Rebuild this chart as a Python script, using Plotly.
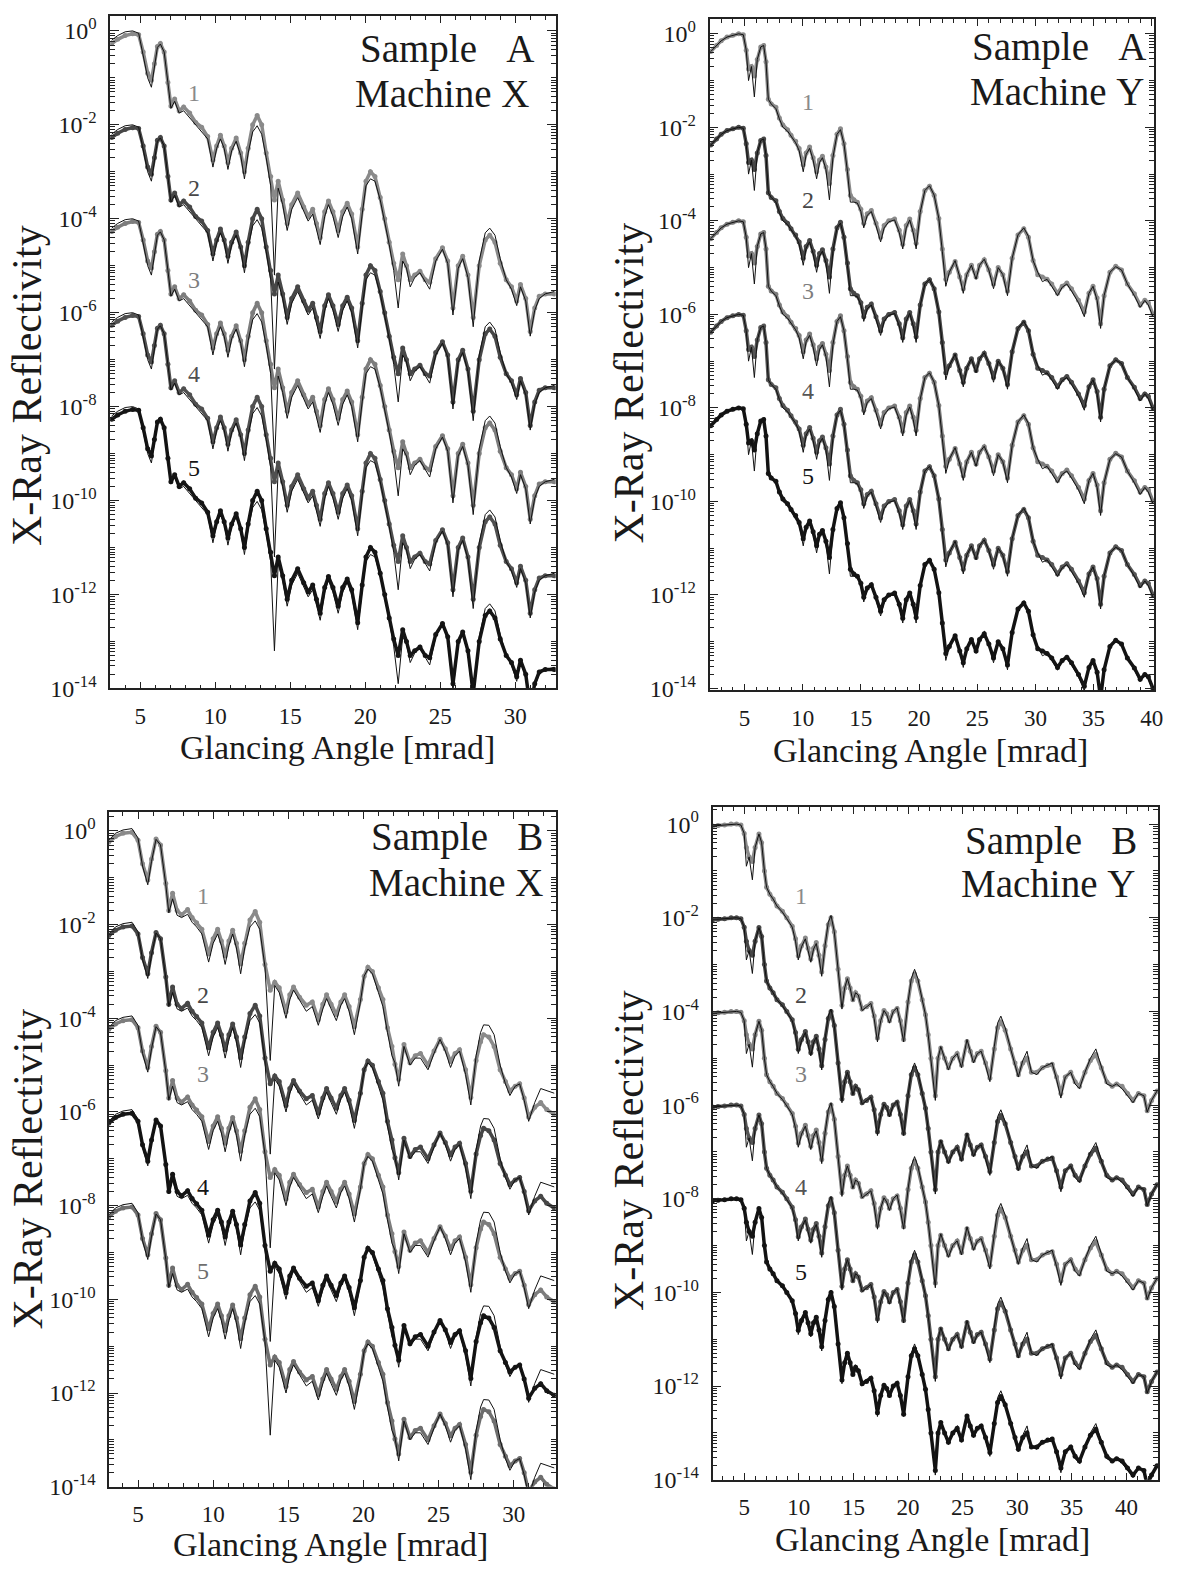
import plotly.graph_objects as go

SERIF = "Liberation Serif, Times New Roman, serif"
W, H = 1181, 1571

# Curve 1 of each panel as log10(reflectivity); curves 2-5 are the same sample
# stacked two decades lower each, as in the original figure.
shift = [0, -2, -4, -6, -8]

# ---- Sample A, Machine X ----
angle_AX = [3.1, 3.5, 4.0, 4.5, 4.9, 5.2, 5.5, 5.75, 5.95, 6.15,
            6.35, 6.6, 6.85, 7.05, 7.3, 7.6, 7.9, 8.3, 8.7, 9.1,
            9.5, 9.85, 10.1, 10.35, 10.6, 10.85, 11.1, 11.4, 11.7, 11.95,
            12.2, 12.5, 12.8, 13.1, 13.4, 13.7, 13.95, 14.2, 14.5, 14.8,
            15.1, 15.5, 15.9, 16.2, 16.5, 16.75, 17.0, 17.3, 17.55, 17.85,
            18.2, 18.5, 18.8, 19.1, 19.5, 19.8, 20.05, 20.35, 20.65, 21.0,
            21.3, 21.6, 21.9, 22.2, 22.5, 22.75, 23.0, 23.3, 23.65, 24.0,
            24.3, 24.7, 25.15, 25.5, 25.85, 26.2, 26.5, 26.85, 27.2, 27.6,
            28.0, 28.3, 28.65, 29.0, 29.4, 29.75, 30.1, 30.35, 30.7, 31.0,
            31.3, 31.6, 32.0, 32.6]
meas_AX = [-0.27, -0.18, -0.1, -0.06, -0.08, -0.45, -0.9, -1.05, -0.7, -0.33,
           -0.27, -0.45, -1.1, -1.6, -1.45, -1.7, -1.62, -1.75, -1.95, -2.05,
           -2.25, -2.75, -2.45, -2.22, -2.45, -2.8, -2.5, -2.28, -2.6, -3.0,
           -2.5, -2.0, -1.8, -2.0, -2.6, -3.1, -3.6, -3.2, -3.6, -4.1,
           -3.7, -3.45, -3.75, -3.95, -3.8, -4.1, -4.4, -3.85, -3.62, -3.85,
           -4.25, -3.85, -3.67, -3.9, -4.6, -3.8, -3.2, -3.0, -3.1, -3.55,
           -4.0, -4.5, -4.95, -5.3, -4.75, -5.0, -5.3, -5.2, -5.12, -5.3,
           -5.35, -4.85, -4.62, -4.9, -5.9, -5.0, -4.8, -5.2, -6.1, -5.0,
           -4.45, -4.35, -4.5, -4.95, -5.3, -5.45, -5.75, -5.4, -5.7, -6.4,
           -5.9, -5.65, -5.6, -5.6]
fit_AX = [-0.2, -0.1, -0.02, 0.0, -0.05, -0.5, -1.0, -1.2, -0.75, -0.35,
          -0.28, -0.45, -1.1, -1.65, -1.5, -1.75, -1.7, -1.85, -2.0, -2.15,
          -2.3, -2.9, -2.5, -2.3, -2.5, -2.95, -2.55, -2.35, -2.65, -3.15,
          -2.6, -2.15, -2.02, -2.2, -2.7, -3.3, -5.2, -3.35, -3.7, -4.25,
          -3.8, -3.55, -3.85, -4.05, -3.9, -4.2, -4.55, -3.95, -3.7, -3.95,
          -4.4, -3.95, -3.75, -4.0, -4.75, -3.9, -3.3, -3.15, -3.2, -3.6,
          -4.05, -4.55, -5.1, -5.9, -4.9, -5.05, -5.45, -5.25, -5.15, -5.35,
          -5.5, -4.9, -4.65, -4.95, -6.05, -5.05, -4.85, -5.25, -6.3, -4.9,
          -4.3, -4.2, -4.35, -4.85, -5.3, -5.5, -5.85, -5.45, -5.75, -6.5,
          -5.95, -5.7, -5.6, -5.55]

# ---- Sample A, Machine Y ----
angle_AY = [2.1, 2.6, 3.0, 3.5, 4.0, 4.5, 4.9, 5.15, 5.35, 5.6,
            5.85, 6.1, 6.4, 6.65, 6.85, 7.05, 7.3, 7.7, 8.0, 8.3,
            8.7, 9.0, 9.4, 9.7, 10.05, 10.3, 10.6, 10.9, 11.2, 11.45,
            11.7, 12.0, 12.3, 12.6, 12.95, 13.25, 13.55, 13.85, 14.1, 14.4,
            14.7, 15.0, 15.25, 15.55, 15.9, 16.3, 16.7, 17.0, 17.4, 17.9,
            18.3, 18.6, 18.9, 19.2, 19.5, 19.75, 20.1, 20.5, 20.9, 21.3,
            21.7, 22.0, 22.3, 22.6, 23.1, 23.5, 23.8, 24.1, 24.5, 24.9,
            25.2, 25.6, 26.0, 26.4, 26.8, 27.2, 27.6, 28.0, 28.5, 29.0,
            29.4, 29.8, 30.2, 30.6, 31.0, 31.4, 31.9, 32.3, 32.7, 33.1,
            33.7, 34.2, 34.6, 34.95, 35.3, 35.6, 35.9, 36.4, 36.9, 37.4,
            37.9, 38.5, 39.0, 39.4, 39.7, 40.1]
meas_AY = [-0.38, -0.25, -0.15, -0.07, -0.03, 0.0, -0.02, -0.35, -0.75, -0.7,
           -0.9, -0.55, -0.28, -0.25, -0.6, -1.4, -1.5, -1.57, -1.8, -1.95,
           -2.05, -2.17, -2.3, -2.45, -2.8, -2.55, -2.42, -2.65, -2.95, -2.7,
           -2.62, -2.85, -3.2, -2.6, -2.15, -2.03, -2.35, -2.9, -3.45, -3.55,
           -3.6, -3.75, -4.05, -3.85, -3.78, -4.05, -4.35, -4.1, -4.0, -3.96,
           -4.2, -4.5, -4.1, -3.96, -4.2, -4.48, -3.8, -3.35, -3.26, -3.45,
           -3.95, -4.6, -5.25, -5.1, -4.87, -5.2, -5.45, -5.15, -4.95, -5.2,
           -4.95, -4.83, -5.05, -5.35, -5.0, -5.15, -5.5, -4.8, -4.3, -4.17,
           -4.35, -4.85, -5.15, -5.2, -5.25, -5.35, -5.55, -5.4, -5.33, -5.45,
           -5.7, -5.95, -5.55, -5.4, -5.65, -6.2, -5.6, -5.1, -4.97, -5.05,
           -5.35, -5.56, -5.8, -5.7, -5.75, -6.0]
fit_AY = [-0.38, -0.25, -0.15, -0.07, -0.03, 0.0, -0.02, -0.35, -1.0, -0.7,
          -1.35, -0.55, -0.28, -0.25, -0.6, -1.4, -1.5, -1.6, -1.82, -2.0,
          -2.08, -2.2, -2.33, -2.5, -2.95, -2.58, -2.45, -2.7, -3.1, -2.75,
          -2.65, -2.9, -3.55, -2.65, -2.15, -2.05, -2.35, -2.95, -3.6, -3.6,
          -3.62, -3.8, -4.15, -3.88, -3.8, -4.1, -4.45, -4.15, -4.02, -3.98,
          -4.25, -4.6, -4.15, -3.98, -4.25, -4.6, -3.82, -3.35, -3.25, -3.45,
          -3.95, -4.65, -5.4, -5.1, -4.85, -5.2, -5.55, -5.15, -4.95, -5.25,
          -4.95, -4.82, -5.05, -5.45, -5.0, -5.15, -5.6, -4.8, -4.3, -4.15,
          -4.33, -4.85, -5.1, -5.3, -5.25, -5.4, -5.6, -5.42, -5.35, -5.5,
          -5.75, -6.05, -5.55, -5.4, -5.7, -6.3, -5.6, -5.1, -4.98, -5.05,
          -5.35, -5.6, -5.85, -5.7, -5.8, -6.05]

# ---- Sample B, Machine X ----
angle_BX = [3.05, 3.5, 4.0, 4.6, 5.0, 5.3, 5.65, 5.9, 6.2, 6.5,
            6.85, 7.05, 7.3, 7.6, 7.9, 8.3, 8.6, 8.9, 9.25, 9.7,
            10.0, 10.3, 10.55, 10.8, 11.05, 11.3, 11.55, 11.83, 12.1, 12.45,
            12.8, 13.1, 13.45, 13.8, 14.1, 14.4, 14.85, 15.1, 15.35, 15.75,
            16.2, 16.6, 17.0, 17.3, 17.55, 17.85, 18.2, 18.5, 18.75, 19.05,
            19.4, 19.8, 20.05, 20.3, 20.6, 21.0, 21.3, 21.6, 21.9, 22.1,
            22.35, 22.7, 23.1, 23.45, 23.8, 24.3, 24.7, 25.1, 25.45, 25.8,
            26.1, 26.4, 26.8, 27.15, 27.5, 27.8, 28.0, 28.35, 28.7, 29.1,
            29.45, 29.75, 30.1, 30.4, 30.7, 31.0, 31.4, 31.8, 32.2, 32.7]
meas_BX = [-0.24, -0.12, -0.05, -0.03, -0.2, -0.7, -1.05, -0.6, -0.17, -0.3,
           -1.12, -1.7, -1.33, -1.7, -1.79, -1.68, -1.85, -1.96, -2.1, -2.63,
           -2.3, -2.1, -2.35, -2.67, -2.35, -2.12, -2.4, -2.84, -2.4, -1.9,
           -1.72, -1.95, -2.85, -3.4, -3.23, -3.35, -3.86, -3.5, -3.33, -3.55,
           -3.72, -3.65, -4.03, -3.7, -3.5, -3.7, -3.92, -3.65, -3.5, -3.75,
           -4.18, -3.6, -3.1, -2.91, -3.0, -3.35, -3.6, -4.2, -4.6, -4.98,
           -5.3, -4.56, -4.95, -4.8, -4.75, -5.0, -4.7, -4.45, -4.65, -4.92,
           -4.75, -4.67, -5.1, -5.69, -4.9, -4.5, -4.35, -4.4, -4.6, -5.1,
           -5.35, -5.55, -5.45, -5.4, -5.7, -6.11, -5.9, -5.8, -5.95, -6.05]
fit_BX = [-0.2, -0.05, 0.02, 0.05, -0.15, -0.75, -1.15, -0.65, -0.18, -0.3,
          -1.15, -1.75, -1.45, -1.8, -1.85, -1.78, -1.95, -2.05, -2.2, -2.8,
          -2.4, -2.2, -2.45, -2.85, -2.45, -2.2, -2.5, -3.05, -2.5, -2.05,
          -1.92, -2.1, -2.9, -4.9, -3.3, -3.45, -4.0, -3.6, -3.4, -3.6,
          -3.85, -3.75, -4.15, -3.8, -3.58, -3.8, -4.05, -3.72, -3.58, -3.85,
          -4.35, -3.65, -3.1, -2.95, -3.05, -3.45, -3.75, -4.3, -4.8, -4.95,
          -5.45, -4.6, -5.0, -4.85, -4.85, -5.1, -4.75, -4.45, -4.7, -5.05,
          -4.8, -4.7, -5.2, -5.85, -4.8, -4.3, -4.14, -4.15, -4.35, -5.0,
          -5.4, -5.65, -5.45, -5.4, -5.75, -6.2, -5.8, -5.5, -5.55, -5.6]

# ---- Sample B, Machine Y ----
angle_BY = [2.1, 2.6, 3.2, 3.8, 4.3, 4.7, 5.0, 5.2, 5.45, 5.75,
            6.0, 6.35, 6.6, 6.85, 7.05, 7.35, 7.65, 8.0, 8.5, 8.9,
            9.4, 9.7, 9.95, 10.25, 10.6, 10.85, 11.1, 11.35, 11.6, 11.85,
            12.1, 12.4, 12.7, 12.95, 13.25, 13.6, 13.95, 14.2, 14.45, 14.7,
            14.95, 15.2, 15.45, 15.8, 16.2, 16.6, 16.9, 17.2, 17.5, 17.8,
            18.05, 18.3, 18.65, 19.0, 19.3, 19.6, 20.0, 20.3, 20.6, 20.9,
            21.3, 21.6, 21.85, 22.1, 22.5, 22.75, 23.0, 23.35, 23.7, 24.1,
            24.5, 24.9, 25.4, 25.7, 26.0, 26.35, 26.7, 27.1, 27.5, 27.9,
            28.2, 28.5, 28.9, 29.4, 29.8, 30.1, 30.5, 30.9, 31.3, 31.8,
            32.3, 32.8, 33.2, 33.6, 34.0, 34.4, 34.9, 35.3, 35.7, 36.2,
            36.7, 37.2, 37.7, 38.2, 38.7, 39.1, 39.6, 40.1, 40.6, 41.1,
            41.6, 41.9, 42.3, 42.8]
meas_BY = [-0.04, -0.03, -0.02, 0.0, 0.0, -0.02, -0.2, -0.5, -0.7, -0.8,
           -0.5, -0.21, -0.4, -1.0, -1.35, -1.5, -1.6, -1.75, -1.86, -2.0,
           -2.18, -2.45, -2.81, -2.6, -2.43, -2.65, -2.88, -2.65, -2.53, -2.8,
           -3.16, -2.6, -2.15, -2.0, -2.3, -3.1, -3.87, -3.5, -3.3, -3.5,
           -3.75, -3.6, -3.67, -3.95, -3.9, -3.83, -4.1, -4.57, -4.2, -3.98,
           -4.05, -4.2, -4.0, -3.94, -4.2, -4.6, -3.8, -3.35, -3.2, -3.35,
           -3.75, -4.07, -4.5, -5.0, -5.8, -5.0, -4.78, -5.0, -5.2, -5.0,
           -4.9, -5.15, -4.64, -4.85, -5.05, -4.9, -4.85, -5.1, -5.42, -4.8,
           -4.35, -4.22, -4.4, -4.8, -5.1, -5.35, -5.1, -5.0, -5.3, -5.3,
           -5.2, -5.15, -5.13, -5.4, -5.75, -5.4, -5.3, -5.5, -5.6, -5.3,
           -5.05, -4.92, -5.2, -5.5, -5.6, -5.55, -5.6, -5.75, -5.9, -5.75,
           -5.8, -6.12, -5.9, -5.7]
fit_BY = [-0.04, -0.03, -0.02, 0.0, 0.0, -0.02, -0.2, -0.9, -0.7, -1.19,
          -0.5, -0.21, -0.4, -1.0, -1.35, -1.5, -1.6, -1.75, -1.88, -2.02,
          -2.2, -2.5, -2.9, -2.62, -2.45, -2.7, -2.95, -2.67, -2.55, -2.85,
          -3.25, -2.6, -2.1, -1.95, -2.3, -3.1, -3.95, -3.5, -3.3, -3.5,
          -3.78, -3.6, -3.65, -3.98, -3.9, -3.83, -4.15, -4.65, -4.2, -3.98,
          -4.07, -4.25, -4.0, -3.92, -4.25, -4.65, -3.8, -3.3, -3.1, -3.3,
          -3.75, -4.07, -4.5, -5.05, -5.9, -5.0, -4.75, -5.0, -5.25, -5.0,
          -4.9, -5.2, -4.6, -4.85, -5.1, -4.9, -4.85, -5.15, -5.5, -4.75,
          -4.25, -4.1, -4.35, -4.8, -5.15, -5.4, -5.05, -4.85, -5.3, -5.35,
          -5.2, -5.15, -5.1, -5.45, -5.85, -5.4, -5.3, -5.55, -5.65, -5.3,
          -5.0, -4.8, -5.2, -5.55, -5.6, -5.55, -5.65, -5.8, -5.95, -5.75,
          -5.8, -6.15, -5.9, -5.7]

# curve number labels (angle, log10 R)
labx_AX, laby_AX = 8.6, [-1.33, -3.35, -5.3, -7.3, -9.3]
labx_AY, laby_AY = 10.5, [-1.45, -3.55, -5.5, -7.64, -9.45]
labx_BX, laby_BX = 9.3, [-1.39, -3.5, -5.2, -7.6, -9.4]
labx_BY, laby_BY = 10.2, [-1.54, -3.65, -5.34, -7.74, -9.56]

col_AX = ["#8a8a8a", "#474747", "#7d7d7d", "#505050", "#151515"]
col_AY = ["#8a8a8a", "#474747", "#7d7d7d", "#555555", "#151515"]
col_BX = ["#8a8a8a", "#474747", "#7d7d7d", "#151515", "#6e6e6e"]
col_BY = ["#8a8a8a", "#474747", "#808080", "#555555", "#151515"]


def px(v):
    return v / W


def py(v):
    return 1 - v / H


panels = [
    # box = frame in px (left, right, top, bottom); txt = sample/machine text anchors;
    # xt = x-title centre, yt = y-title centre (px)
    dict(x=angle_AX, m=meas_AX, f=fit_AX, c=col_AX, lx=labx_AX, ly=laby_AX, s="A", mach="X",
         box=(111, 560, 14, 693), xr=[3.0, 32.7], yr=[-14, 0.32],
         txt=(540, 47, 535, 92), xt=(340, 753), yt=(28, 387)),
    dict(x=angle_AY, m=meas_AY, f=fit_AY, c=col_AY, lx=labx_AY, ly=laby_AY, s="A", mach="Y",
         box=(715, 1163, 17, 695), xr=[2.0, 40.2], yr=[-14.04, 0.32],
         txt=(1157, 45, 1155, 90), xt=(938, 756), yt=(634, 385)),
    dict(x=angle_BX, m=meas_BX, f=fit_BX, c=col_BX, lx=labx_BX, ly=laby_BX, s="B", mach="X",
         box=(110, 560, 818, 1499), xr=[3.08, 32.8], yr=[-14, 0.4],
         txt=(549, 843, 549, 889), xt=(333, 1557), yt=(28, 1178)),
    dict(x=angle_BY, m=meas_BY, f=fit_BY, c=col_BY, lx=labx_BY, ly=laby_BY, s="B", mach="Y",
         box=(718, 1167, 813, 1492), xr=[2.1, 42.9], yr=[-14, 0.36],
         txt=(1148, 847, 1146, 890), xt=(940, 1552), yt=(634, 1160)),
]

fig = go.Figure()
ytick_vals = [10.0 ** k for k in range(-14, 1, 2)]
ytick_text = ["10<sup>%d</sup>" % k for k in range(-14, 1, 2)]
yminor = [m * 10.0 ** k for k in range(-14, 1) for m in range(1, 10)
          if not (m == 1 and k % 2 == 0)]
annotations = []
dark = "#1a1a1a"

for i, p in enumerate(panels):
    n = "" if i == 0 else str(i + 1)
    xa, ya = "x" + n, "y" + n
    for k in range(5):
        fig.add_trace(go.Scatter(
            x=p["x"], y=[10 ** (v + shift[k]) for v in p["m"]], xaxis=xa, yaxis=ya,
            mode="lines+markers", line=dict(color=p["c"][k], width=3.5),
            marker=dict(color=p["c"][k], size=5), showlegend=False))
        fig.add_trace(go.Scatter(
            x=p["x"], y=[10 ** (v + shift[k]) for v in p["f"]], xaxis=xa, yaxis=ya,
            mode="lines", line=dict(color="#111111", width=1), showlegend=False))
        annotations.append(dict(x=p["lx"], y=p["ly"][k], xref=xa, yref=ya, text=str(k + 1),
                                showarrow=False, font=dict(family=SERIF, size=24, color=p["c"][k])))

    l, r, t, b = p["box"]
    common = dict(showline=True, linecolor="#222222", linewidth=1.5, mirror="allticks",
                  ticks="inside", tickcolor="#222222", showgrid=False, zeroline=False)
    fig.update_layout(**{
        "xaxis" + n: dict(domain=[px(l), px(r)], range=p["xr"], anchor=ya, tick0=0, dtick=5,
                          ticklen=7, ticklabelstandoff=6,
                          tickfont=dict(family=SERIF, size=23, color=dark),
                          minor=dict(dtick=1, ticks="inside", ticklen=4, tickcolor="#222222"),
                          **common),
        "yaxis" + n: dict(domain=[py(b), py(t)], type="log", range=p["yr"], anchor=xa,
                          tickmode="array", tickvals=ytick_vals, ticktext=ytick_text,
                          ticklen=9, ticklabelstandoff=7,
                          tickfont=dict(family=SERIF, size=24, color=dark),
                          minor=dict(tickmode="array", tickvals=yminor, ticks="inside",
                                     ticklen=5, tickcolor="#222222"),
                          **common),
    })

    tx1, ty1, tx2, ty2 = p["txt"]
    annotations.append(dict(x=px(tx1), y=py(ty1), xref="paper", yref="paper",
                            xanchor="right", yanchor="middle",
                            text="Sample\u00a0\u00a0\u00a0" + p["s"], showarrow=False,
                            font=dict(family=SERIF, size=39, color=dark)))
    annotations.append(dict(x=px(tx2), y=py(ty2), xref="paper", yref="paper",
                            xanchor="right", yanchor="middle",
                            text="Machine\u00a0" + p["mach"], showarrow=False,
                            font=dict(family=SERIF, size=39, color=dark)))
    annotations.append(dict(x=px(p["xt"][0]), y=py(p["xt"][1]), xref="paper", yref="paper",
                            xanchor="center", yanchor="middle",
                            text="Glancing Angle [mrad]", showarrow=False,
                            font=dict(family=SERIF, size=34, color=dark)))
    annotations.append(dict(x=px(p["yt"][0]), y=py(p["yt"][1]), xref="paper", yref="paper",
                            xanchor="center", yanchor="middle",
                            text="X-Ray Reflectivity", showarrow=False, textangle=-90,
                            font=dict(family=SERIF, size=42, color=dark)))

fig.update_layout(width=W, height=H, margin=dict(l=0, r=0, t=0, b=0),
                  paper_bgcolor="white", plot_bgcolor="white",
                  annotations=annotations)

# the page keeps a default body margin and scrollbars; drop them so the figure fills the window
page_fix = ("document.body.style.margin='0px';"
            "document.body.style.overflow='hidden';"
            "document.documentElement.style.overflow='hidden';")
fig.write_html("out.html", post_script=page_fix, config={"displayModeBar": False})
